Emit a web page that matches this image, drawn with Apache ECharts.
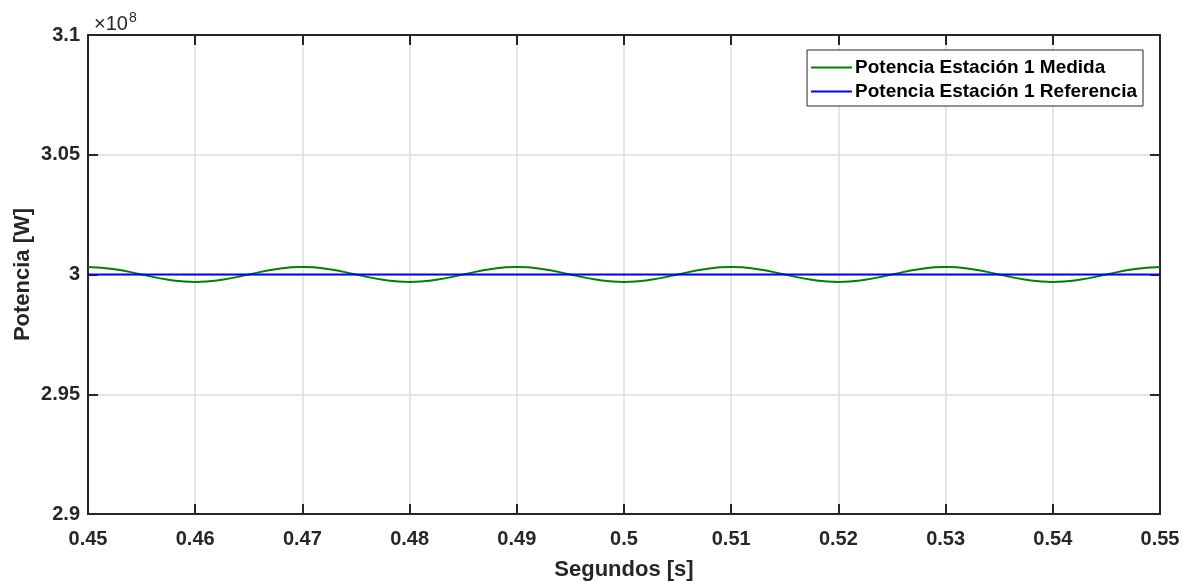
<!DOCTYPE html>
<html><head><meta charset="utf-8">
<script src="https://cdn.jsdelivr.net/npm/echarts@6/dist/echarts.min.js"></script>
<style>html,body{margin:0;padding:0;background:#fff}#c{width:1187px;height:582px}</style>
</head><body><div id="c"></div>
<script>
const timeS = [0.45,0.4525,0.455,0.4575,0.46,0.4625,0.465,0.4675,0.47,0.4725,0.475,0.4775,0.48,0.4825,0.485,0.4875,0.49,0.4925,0.495,0.4975,0.5,0.5025,0.505,0.5075,0.51,0.5125,0.515,0.5175,0.52,0.5225,0.525,0.5275,0.53,0.5325,0.535,0.5375,0.54,0.5425,0.545,0.5475,0.55];
const medida = [300310000,300220000,300000000,299780000,299690000,299780000,300000000,300220000,
  300310000,300220000,300000000,299780000,299690000,299780000,300000000,300220000,
  300310000,300220000,300000000,299780000,299690000,299780000,300000000,300220000,
  300310000,300220000,300000000,299780000,299690000,299780000,300000000,300220000,
  300310000,300220000,300000000,299780000,299690000,299780000,300000000,300220000,
  300310000];
const refTime = [0.45, 0.55];
const referencia = [300000000, 300000000];
const seriesNames = ['Potencia Estación 1 Medida', 'Potencia Estación 1 Referencia'];

const FONT = '"Liberation Sans", Arial, sans-serif';
const TXT = '#262626';
const chart = echarts.init(document.getElementById('c'));
const fmtY = v => String(+(v/1e8).toFixed(4));
chart.setOption({
  animation: false,
  backgroundColor: '#fff',
  title: {
    text: '×10{s|8}', left: 89, top: 6,
    textStyle: { fontFamily: FONT, fontSize: 20, color: TXT, fontWeight: 'normal',
      rich: { s: { fontFamily: FONT, fontSize: 14, color: TXT, verticalAlign: 'top', padding: [0,0,12,1] } } }
  },
  grid: { left: 88, right: 27, top: 35, bottom: 68, show: true, borderColor: TXT, borderWidth: 2,
    containLabel: false, outerBoundsMode: 'none' },
  legend: {
    orient: 'vertical', right: 44, top: 50,
    icon: 'rect', itemWidth: 41, itemHeight: 2, itemGap: 5,
    backgroundColor: '#fff', borderColor: '#262626', borderWidth: 1, borderRadius: 0, padding: [8, 6, 5, 4],
    textStyle: { fontFamily: FONT, fontSize: 19, fontWeight: 'bold', color: '#000', padding: [0,0,0,-2] },
    data: seriesNames
  },
  xAxis: [{
    type: 'value', min: 0.45, max: 0.55, interval: 0.01,
    name: 'Segundos [s]', nameLocation: 'middle', nameGap: 45,
    nameTextStyle: { fontFamily: FONT, fontSize: 22, fontWeight: 'bold', color: TXT },
    axisLine: { show: true, lineStyle: { color: TXT, width: 2 } },
    axisTick: { show: true, inside: true, length: 10, lineStyle: { color: TXT, width: 2 } },
    axisLabel: { fontFamily: FONT, fontSize: 20, fontWeight: 'bold', color: TXT, margin: 15,
      formatter: v => String(+v.toFixed(4)) },
    splitLine: { show: true, lineStyle: { color: '#dcdcdc', width: 1.5 } }
  }, {
    type: 'value', position: 'top', min: 0.45, max: 0.55, interval: 0.01,
    axisLine: { show: true, lineStyle: { color: TXT, width: 2 } },
    axisTick: { show: true, inside: true, length: 10, lineStyle: { color: TXT, width: 2 } },
    axisLabel: { show: false }, splitLine: { show: false }
  }],
  yAxis: [{
    type: 'value', min: 290000000, max: 310000000, interval: 5000000,
    name: 'Potencia [W]', nameLocation: 'middle', nameGap: 54, nameMoveOverlap: false,
    nameTextStyle: { fontFamily: FONT, fontSize: 22, fontWeight: 'bold', color: TXT },
    axisLine: { show: true, lineStyle: { color: TXT, width: 2 } },
    axisTick: { show: true, inside: true, length: 10, lineStyle: { color: TXT, width: 2 } },
    axisLabel: { fontFamily: FONT, fontSize: 20, fontWeight: 'bold', color: TXT, margin: 8, formatter: fmtY },
    splitLine: { show: true, lineStyle: { color: '#dcdcdc', width: 1.5 } }
  }, {
    type: 'value', position: 'right', min: 290000000, max: 310000000, interval: 5000000,
    axisLine: { show: true, lineStyle: { color: TXT, width: 2 } },
    axisTick: { show: true, inside: true, length: 10, lineStyle: { color: TXT, width: 2 } },
    axisLabel: { show: false }, splitLine: { show: false }
  }],
  series: [{
    name: seriesNames[0], type: 'line', symbol: 'none', smooth: 0.5,
    lineStyle: { color: '#008000', width: 2 }, itemStyle: { color: '#008000' },
    data: timeS.map((t, i) => [t, medida[i]]), z: 3
  }, {
    name: seriesNames[1], type: 'line', symbol: 'none',
    lineStyle: { color: '#0000ff', width: 2 }, itemStyle: { color: '#0000ff' },
    data: refTime.map((t, i) => [t, referencia[i]]), z: 4
  }]
});
</script></body></html>
